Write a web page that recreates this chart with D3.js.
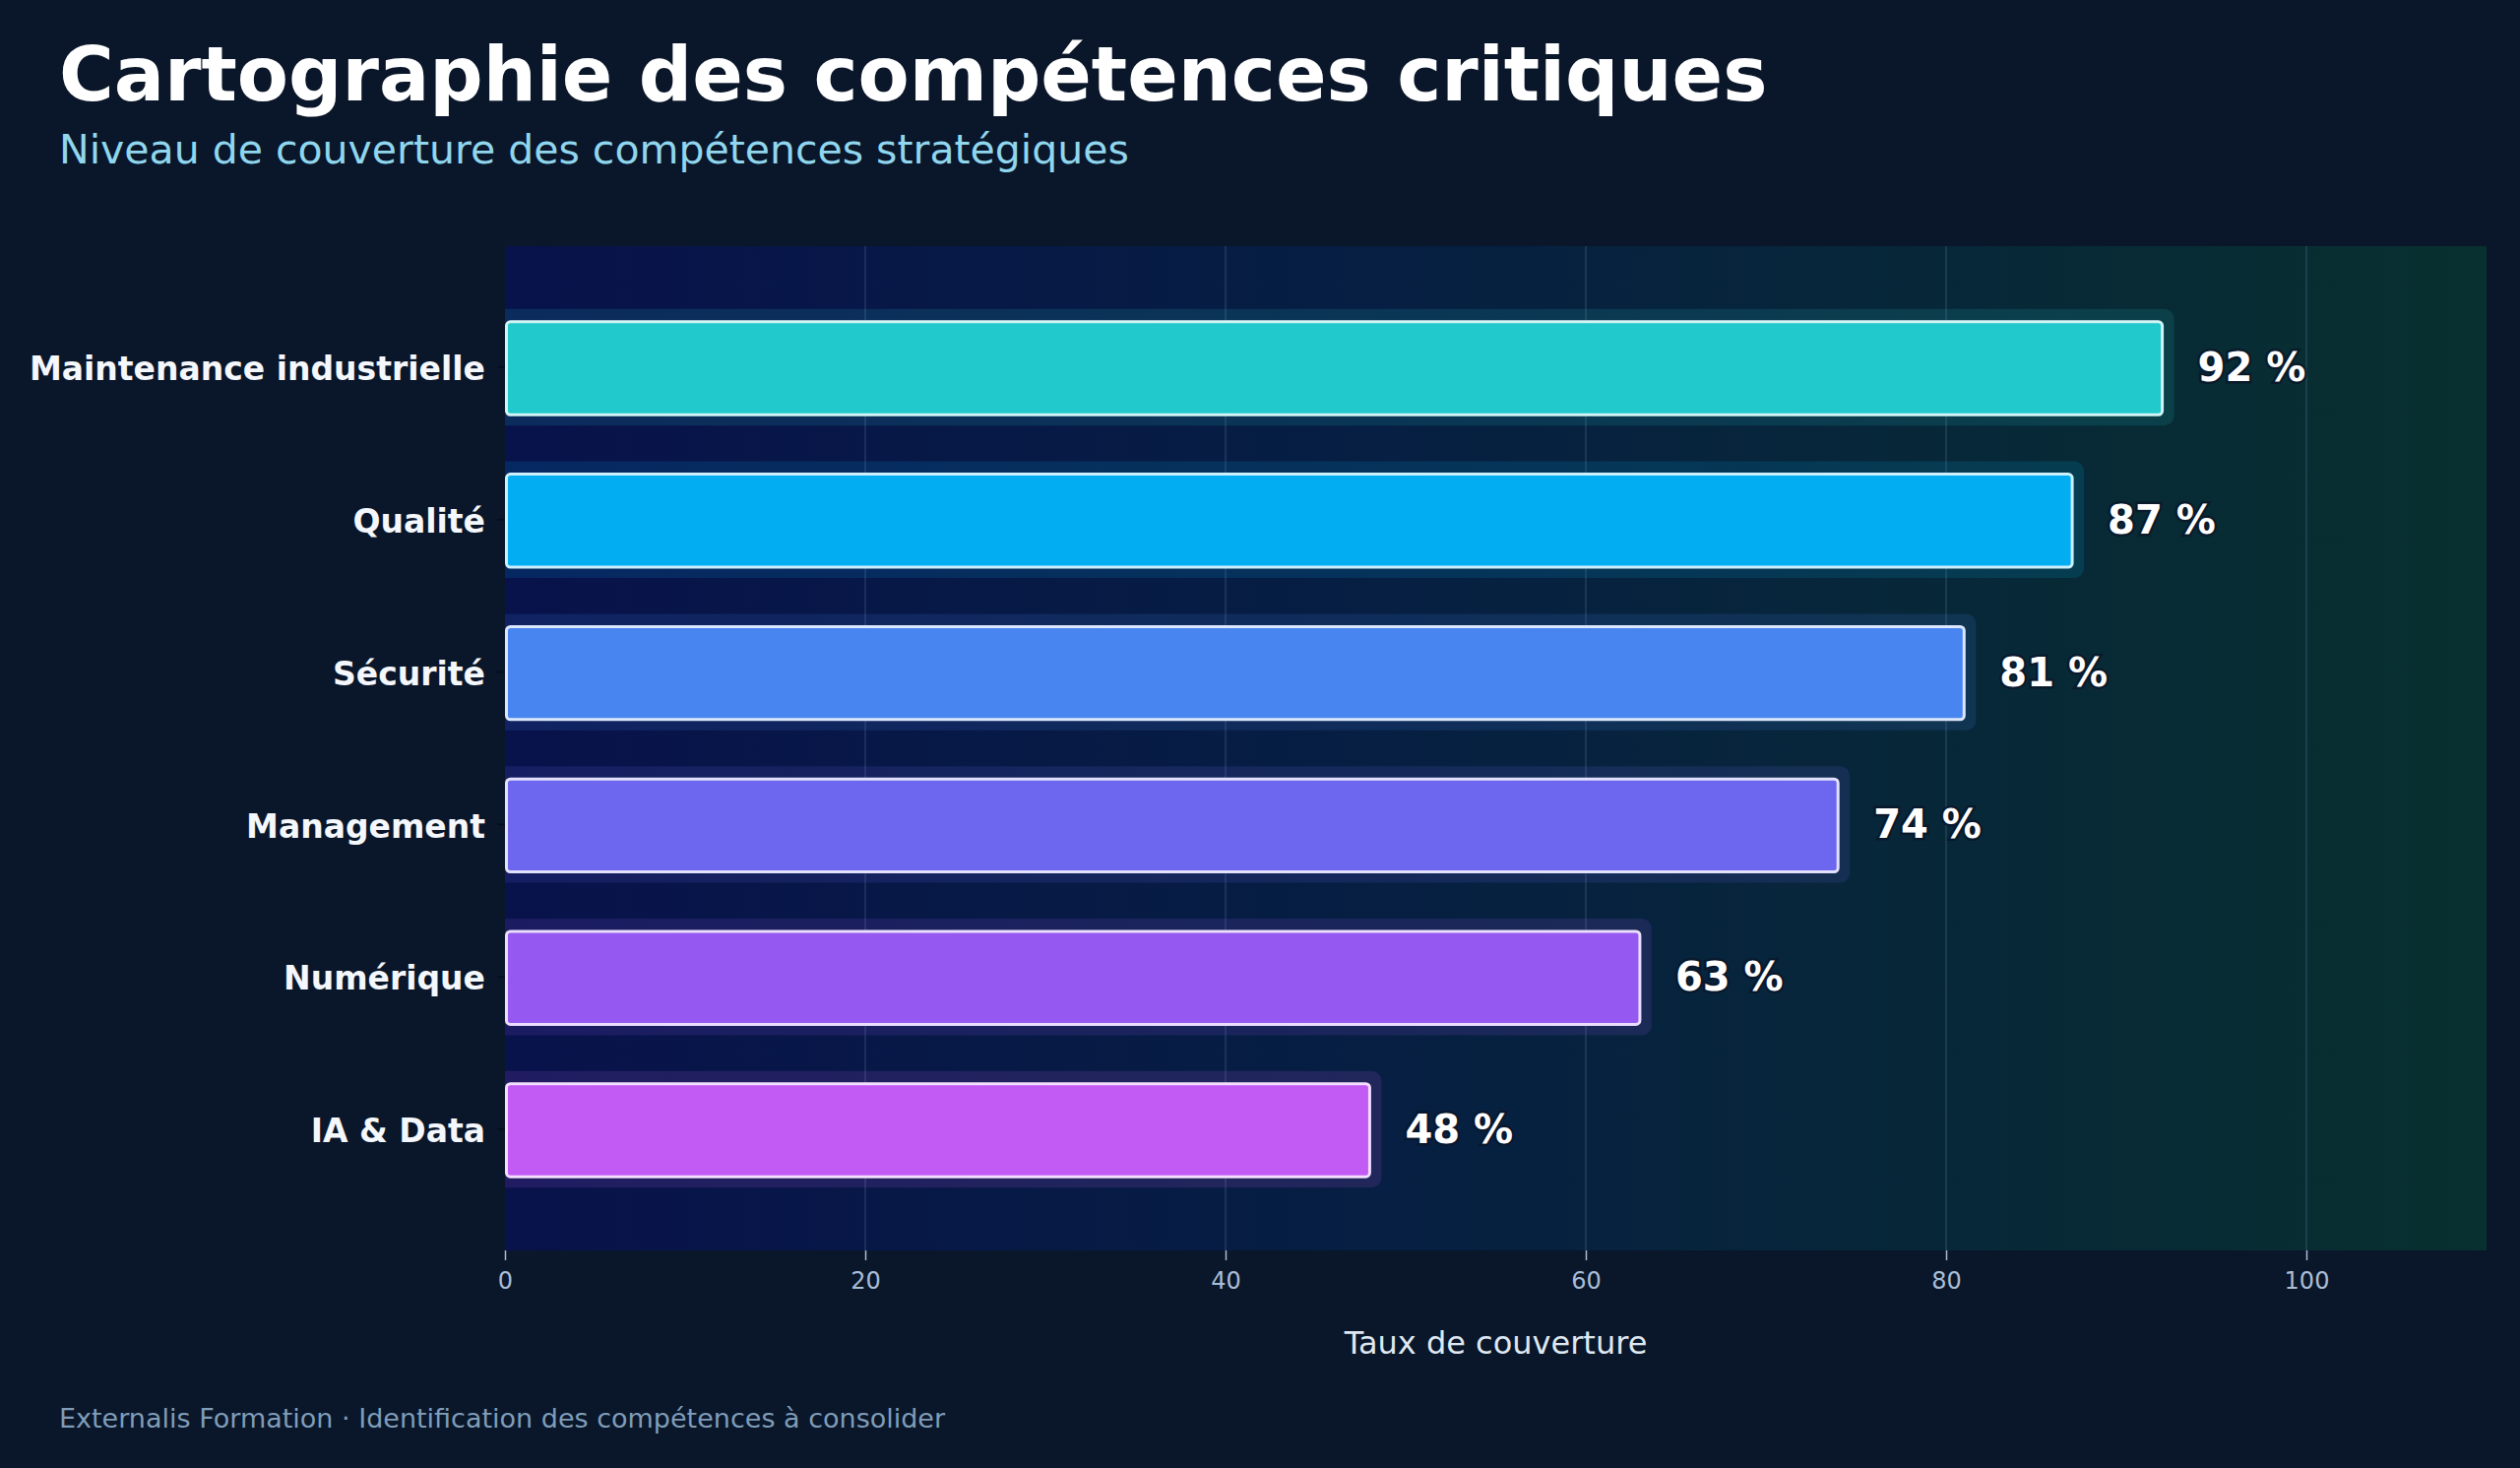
<!DOCTYPE html>
<html>
<head>
<meta charset="utf-8">
<script src="https://cdn.jsdelivr.net/npm/d3@7"></script>
<style>
  html, body { margin: 0; padding: 0; background: #0a1629; }
  text { font-family: "DejaVu Sans", sans-serif; }
</style>
</head>
<body>
<div id="chart"></div>
<script>
// data
const skills = ["Maintenance industrielle", "Qualité", "Sécurité", "Management", "Numérique", "IA & Data"]
const coverage = [92, 87, 81, 74, 63, 48]
const barColors = ["#21c8cc", "#02aef1", "#4985f1", "#6d67ef", "#9558f1", "#c25af4"]
const xTicks = [0, 20, 40, 60, 80, 100]

const outerWidth = 2560
const outerHeight = 1491
const margin = {top: 250, right: 34, bottom: 221, left: 513}
const w = outerWidth - margin.left - margin.right
const h = outerHeight - margin.top - margin.bottom

const svg = d3.select("#chart")
    .append("svg")
    .attr("width", outerWidth)
    .attr("height", outerHeight)

svg.append("rect")
    .attr("width", outerWidth)
    .attr("height", outerHeight)
    .attr("fill", "#0a1629")

const defs = svg.append("defs")
const grad = defs.append("linearGradient")
    .attr("id", "plotbg")
    .attr("x1", "0%").attr("x2", "100%")
    .attr("y1", "0%").attr("y2", "0%")
grad.append("stop").attr("offset", "0%").attr("stop-color", "#08124b")
grad.append("stop").attr("offset", "45%").attr("stop-color", "#061f42")
grad.append("stop").attr("offset", "100%").attr("stop-color", "#08302f")

// titles
svg.append("text")
    .attr("x", 60).attr("y", 102)
    .attr("fill", "#ffffff")
    .attr("font-size", 76)
    .attr("font-weight", "bold")
    .text("Cartographie des compétences critiques")

svg.append("text")
    .attr("x", 60).attr("y", 166)
    .attr("fill", "#8fd6ee")
    .attr("font-size", 41)
    .text("Niveau de couverture des compétences stratégiques")

const g = svg.append("g")
    .attr("transform", `translate(${margin.left}, ${margin.top})`)

g.append("rect")
    .attr("width", w)
    .attr("height", h)
    .attr("fill", "url(#plotbg)")

g.append("clipPath")
    .attr("id", "clip")
    .append("rect")
    .attr("width", w)
    .attr("height", h)

const xScale = d3.scaleLinear()
    .domain([0, 110])
    .range([0, w])

const yScale = d3.scaleBand()
    .domain(skills)
    .range([0, h])
    .paddingInner(0.39)
    .paddingOuter(0.49)

// gridlines
g.selectAll(".grid")
    .data(xTicks.filter(d => d > 0))
    .enter()
    .append("line")
    .attr("class", "grid")
    .attr("x1", d => xScale(d))
    .attr("x2", d => xScale(d))
    .attr("y1", 0)
    .attr("y2", h)
    .attr("stroke", "#7fa6c4")
    .attr("stroke-opacity", 0.22)
    .attr("stroke-width", 1.5)

const data = skills.map((s, i) => ({skill: s, value: coverage[i], color: barColors[i]}))

const pad = 12
g.append("g")
    .attr("clip-path", "url(#clip)")
    .selectAll(".glow")
    .data(data)
    .enter()
    .append("rect")
    .attr("class", "glow")
    .attr("x", -20)
    .attr("y", d => yScale(d.skill) - pad)
    .attr("width", d => xScale(d.value) + 20 + pad)
    .attr("height", yScale.bandwidth() + pad * 2)
    .attr("rx", 10)
    .attr("fill", d => d.color)
    .attr("fill-opacity", 0.14)

g.append("g")
    .attr("clip-path", "url(#clip)")
    .selectAll(".bar")
    .data(data)
    .enter()
    .append("rect")
    .attr("class", "bar")
    .attr("x", 1.5)
    .attr("y", d => yScale(d.skill) + 1)
    .attr("width", d => xScale(d.value) - 1.5)
    .attr("height", yScale.bandwidth())
    .attr("rx", 4)
    .attr("fill", d => d.color)
    .attr("stroke", d => d3.interpolateRgb(d.color, "#ffffff")(0.8))
    .attr("stroke-width", 3)

g.selectAll(".val")
    .data(data)
    .enter()
    .append("text")
    .attr("class", "val")
    .attr("x", d => xScale(d.value) + 36)
    .attr("y", d => yScale(d.skill) + yScale.bandwidth() / 2)
    .attr("dy", "0.35em")
    .attr("fill", "#ffffff")
    .attr("stroke", "#0a1629")
    .attr("stroke-opacity", 0.8)
    .attr("stroke-width", 5)
    .attr("paint-order", "stroke")
    .attr("font-size", 40)
    .attr("font-weight", "bold")
    .text(d => `${d.value} %`)

// axes
const xAxis = d3.axisBottom(xScale)
    .tickValues(xTicks)
    .tickSize(10)
    .tickPadding(12)

const yAxis = d3.axisLeft(yScale)
    .tickSize(8)
    .tickPadding(12)

const gx = g.append("g")
    .attr("class", "axis x-axis")
    .attr("transform", `translate(0, ${h})`)
    .call(xAxis)
gx.select(".domain").remove()
gx.selectAll(".tick line").attr("stroke", "#a9bdd6").attr("stroke-width", 1.5)
gx.selectAll(".tick text")
    .attr("fill", "#a9bdd6")
    .attr("font-size", 24)
    .attr("font-family", "DejaVu Sans")

const gy = g.append("g")
    .attr("class", "axis y-axis")
    .call(yAxis)
gy.select(".domain").remove()
gy.selectAll(".tick line").attr("stroke", "#050d1a").attr("stroke-width", 1.5)
gy.selectAll(".tick text")
    .attr("fill", "#f4f7fb")
    .attr("font-size", 33)
    .attr("font-weight", "bold")
    .attr("font-family", "DejaVu Sans")
    .attr("dy", "0.4em")

g.append("text")
    .attr("x", w / 2)
    .attr("y", h + 105)
    .attr("text-anchor", "middle")
    .attr("fill", "#dfe8f2")
    .attr("font-size", 32)
    .text("Taux de couverture")

svg.append("text")
    .attr("x", 60).attr("y", 1450)
    .attr("fill", "#7f9db9")
    .attr("font-size", 27)
    .text("Externalis Formation · Identification des compétences à consolider")
</script>
</body>
</html>
